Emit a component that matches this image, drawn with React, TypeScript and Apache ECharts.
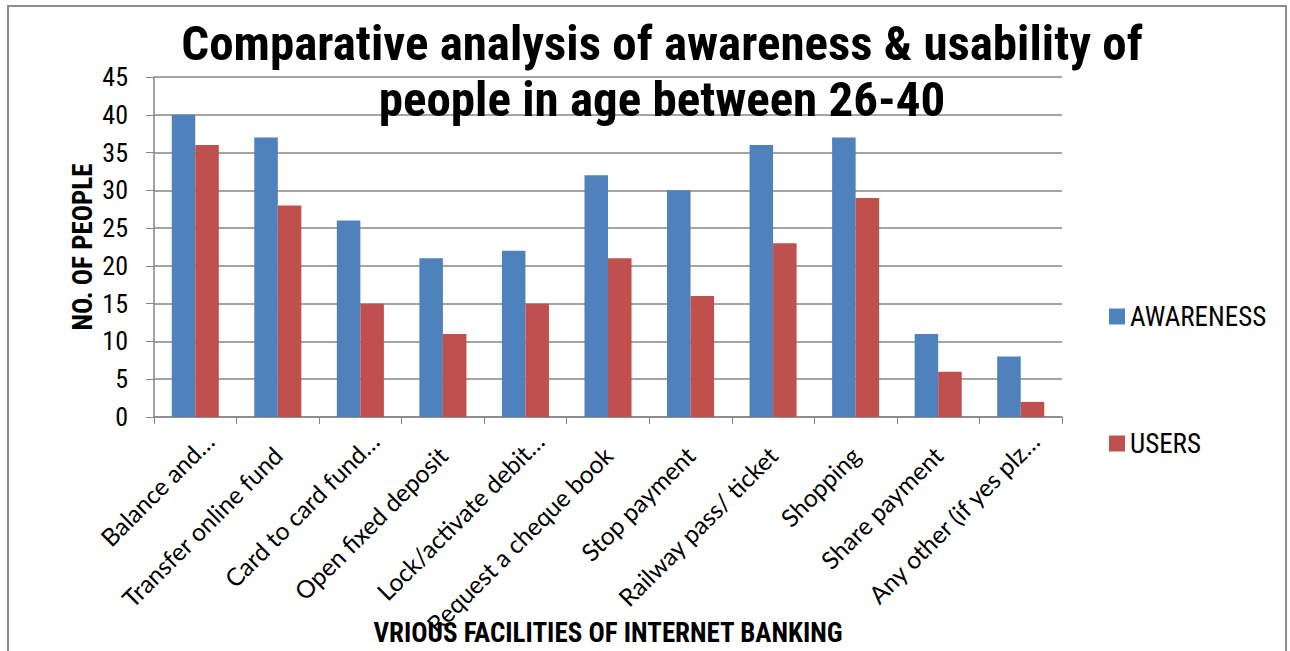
import React, { useEffect, useRef } from "react";
import * as echarts from "echarts";

// Internet banking facilities, people aged 26-40
const categories = [
  "Balance and…",
  "Transfer online fund",
  "Card to card fund…",
  "Open fixed deposit",
  "Lock/activate debit…",
  "Request a cheque book",
  "Stop payment",
  "Railway pass/ ticket",
  "Shopping",
  "Share payment",
  "Any other (if yes plz…",
];
const awareness = [40, 37, 26, 21, 22, 32, 30, 36, 37, 11, 8];
const users = [36, 28, 15, 11, 15, 21, 16, 23, 29, 6, 2];
const yTicks = { min: 0, max: 45, interval: 5 };

const NARROW = '"Liberation Sans Narrow", "Arial Narrow", "Roboto Condensed", sans-serif';
const BODY = 'Lato, "Open Sans", sans-serif';

// Shortened names keep the slot of their full text, so they sit further out.
const categoryData = categories.map((c) =>
  c.endsWith("…") ? { value: c, textStyle: { padding: [0, -20, 0, 0] } } : c
);

export default function App() {
  const ref = useRef<HTMLDivElement>(null);

  useEffect(() => {
    document.body.style.margin = "0";
    const chart = echarts.init(ref.current!, null, { renderer: "svg" });
    chart.setOption({
      animation: false,
      backgroundColor: "#ffffff",
      title: {
        text: "Comparative analysis of awareness & usability of\npeople in age between 26-40",
        left: 657,
        top: 10,
        textAlign: "center",
        textStyle: {
          fontFamily: NARROW,
          fontWeight: "bold",
          fontSize: 49,
          lineHeight: 56,
          color: "#000",
        },
      },
      graphic: [
        {
          type: "rect",
          shape: { x: 8, y: 6, width: 1278, height: 680 },
          style: { fill: "none", stroke: "#8c8c8c", lineWidth: 2 },
          silent: true,
          z: -1,
        },
      ],
      legend: {
        orient: "vertical",
        left: 1104,
        top: 298,
        itemWidth: 16,
        itemHeight: 16,
        itemGap: 100,
        icon: "rect",
        textStyle: { fontFamily: NARROW, fontSize: 27, lineHeight: 20, color: "#000" },
        data: ["AWARENESS", "USERS"],
      },
      grid: {
        left: 154,
        right: 228,
        top: 77,
        bottom: 234,
        containLabel: false,
        outerBoundsMode: "none",
      },
      xAxis: {
        type: "category",
        data: categoryData,
        name: "VRIOUS FACILITIES OF INTERNET BANKING",
        nameLocation: "middle",
        nameGap: 202,
        nameMoveOverlap: false,
        nameTextStyle: {
          fontFamily: NARROW,
          fontWeight: "bold",
          fontSize: 27,
          color: "#000",
        },
        axisLine: { lineStyle: { color: "#868686", width: 1.5 } },
        axisTick: { show: true, length: 7, lineStyle: { color: "#868686" } },
        axisLabel: {
          interval: 0,
          rotate: 45,
          margin: 34,
          fontFamily: BODY,
          fontSize: 24.5,
          color: "#000",
        },
      },
      yAxis: {
        type: "value",
        min: yTicks.min,
        max: yTicks.max,
        interval: yTicks.interval,
        name: "NO. OF PEOPLE",
        nameLocation: "middle",
        nameGap: 58,
        nameRotate: 90,
        nameMoveOverlap: false,
        nameTextStyle: {
          fontFamily: NARROW,
          fontWeight: "bold",
          fontSize: 27,
          color: "#000",
        },
        axisLine: { show: true, lineStyle: { color: "#868686", width: 1.5 } },
        axisTick: { show: true, length: 8, lineStyle: { color: "#868686" } },
        axisLabel: { fontFamily: NARROW, fontSize: 26, color: "#000", margin: 26 },
        splitLine: { lineStyle: { color: "#868686", width: 1.5 } },
      },
      series: [
        {
          name: "AWARENESS",
          type: "bar",
          data: awareness,
          barGap: "0%",
          barCategoryGap: "43%",
          itemStyle: { color: "#4F81BD" },
        },
        {
          name: "USERS",
          type: "bar",
          data: users,
          barGap: "0%",
          barCategoryGap: "43%",
          itemStyle: { color: "#C0504D" },
        },
      ],
    });
    return () => chart.dispose();
  }, []);

  return <div ref={ref} style={{ width: 1290, height: 651 }} />;
}
